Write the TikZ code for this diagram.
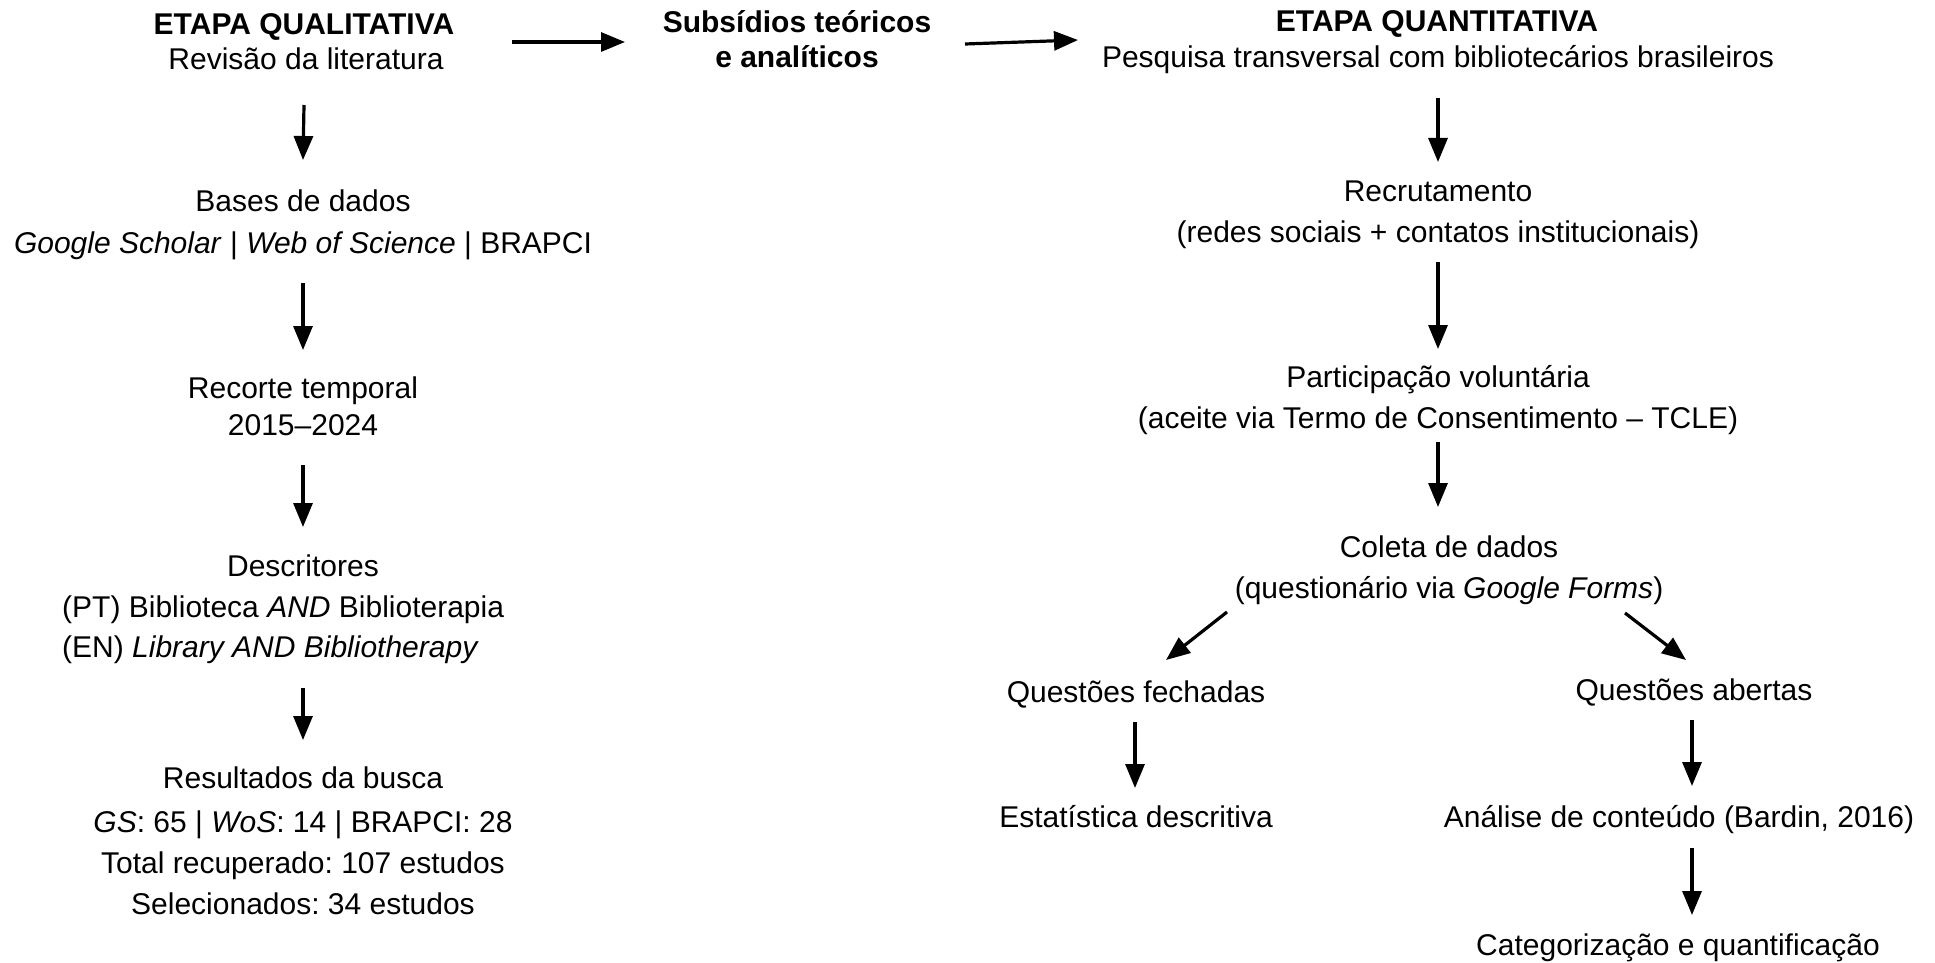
\documentclass[tikz,border=0pt]{standalone}
\usepackage{fontspec}
\setmainfont{Liberation Sans}
\usetikzlibrary{arrows.meta,calc}
\frenchspacing
\tikzset{
  txt/.style={anchor=base, inner sep=0pt, font=\fontsize{30}{36}\selectfont},
  txtl/.style={anchor=base west, inner sep=0pt, font=\fontsize{30}{36}\selectfont},
  hdr/.style={anchor=base, inner sep=0pt, font=\fontsize{30}{36}\selectfont\bfseries},
  arr/.style={line width=3.2pt, -{Triangle[length=24pt,width=19pt]}}
}
\begin{document}
\begin{tikzpicture}[x=1pt,y=-1pt]
\useasboundingbox[fill=white] (0,0) rectangle (1935,963);
% header row
\node[hdr] (qual1) at (304,35) {ETAPA QUALITATIVA};
\node[txt] (qual2) at (306,70) {Revisão da literatura};
\node[hdr] (subs1) at (797,33) {Subsídios teóricos};
\node[hdr] (subs2) at (797,68) {e analíticos};
\node[hdr] (quan1) at (1437,32) {ETAPA QUANTITATIVA};
\node[txt] (quan2) at (1438,68) {Pesquisa transversal com bibliotecários brasileiros};
% left column
\node[txt] (bases1) at (303,211) {Bases de dados};
\node[txt] (bases2) at (303,253) {\textit{Google Scholar} | \textit{Web of Science} | BRAPCI};
\node[txt] (rec1) at (303,398) {Recorte temporal};
\node[txt] (rec2) at (303,435) {2015–2024};
\node[txt] (desc1) at (303,576) {Descritores};
\node[txtl] (desc2) at (62,617) {(PT) Biblioteca \textit{AND} Biblioterapia};
\node[txtl] (desc3) at (62,657) {(EN) \textit{Library AND Bibliotherapy}};
\node[txt] (res1) at (303,788) {Resultados da busca};
\node[txt] (res2) at (303,832) {\textit{GS}: 65 | \textit{WoS}: 14 | BRAPCI: 28};
\node[txt] (res3) at (303,873) {Total recuperado: 107 estudos};
\node[txt] (res4) at (303,914) {Selecionados: 34 estudos};
% right column
\node[txt] (recr1) at (1438,201) {Recrutamento};
\node[txt] (recr2) at (1438,242) {(redes sociais + contatos institucionais)};
\node[txt] (part1) at (1438,387) {Participação voluntária};
\node[txt] (part2) at (1438,428) {(aceite via Termo de Consentimento – TCLE)};
\node[txt] (col1) at (1449,557) {Coleta de dados};
\node[txt] (col2) at (1449,598) {(questionário via \textit{Google Forms})};
\node[txt] (fech) at (1136,702) {Questões fechadas};
\node[txt] (abert) at (1694,700) {Questões abertas};
\node[txt] (estat) at (1136,827) {Estatística descritiva};
\node[txt] (anal) at (1679,827) {Análise de conteúdo (Bardin, 2016)};
\node[txt] (categ) at (1678,955) {Categorização e quantificação};
% horizontal arrows
\draw[arr] ($(qual1.base)+(208,7)$) -- ($(subs1.base)+(-172,9)$);
\draw[arr] ($(subs1.base)+(168,11)$) -- ($(quan1.base)+(-359,8)$);
% left column arrows
\draw[arr] ($(qual2.base)+(-2,35)$) -- ($(bases1.base)+(0,-51)$);
\draw[arr] ($(bases2.base)+(0,30)$) -- ($(rec1.base)+(0,-48)$);
\draw[arr] ($(rec2.base)+(0,30)$) -- ($(desc1.base)+(0,-49)$);
\draw[arr] ($(desc1.base |- desc3.base)+(0,31)$) -- ($(res1.base)+(0,-48)$);
% right column arrows
\draw[arr] ($(quan2.base)+(0,30)$) -- ($(recr1.base)+(0,-39)$);
\draw[arr] ($(recr2.base)+(0,20)$) -- ($(part1.base)+(0,-38)$);
\draw[arr] ($(part2.base)+(0,14)$) -- ($(part2.base |- col1.base)+(0,-50)$);
\draw[arr] ($(col2.base)+(-222,14)$) -- ($(fech.base)+(30,-42)$);
\draw[arr] ($(col2.base)+(176,15)$) -- ($(abert.base)+(-8,-40)$);
\draw[arr] ($(fech.base)+(-1,20)$) -- ($(fech.base |- estat.base)+(-1,-39)$);
\draw[arr] ($(abert.base)+(-2,20)$) -- ($(abert.base |- anal.base)+(-2,-41)$);
\draw[arr] ($(abert.base |- anal.base)+(-2,21)$) -- ($(abert.base |- categ.base)+(-2,-40)$);
\end{tikzpicture}
\end{document}
